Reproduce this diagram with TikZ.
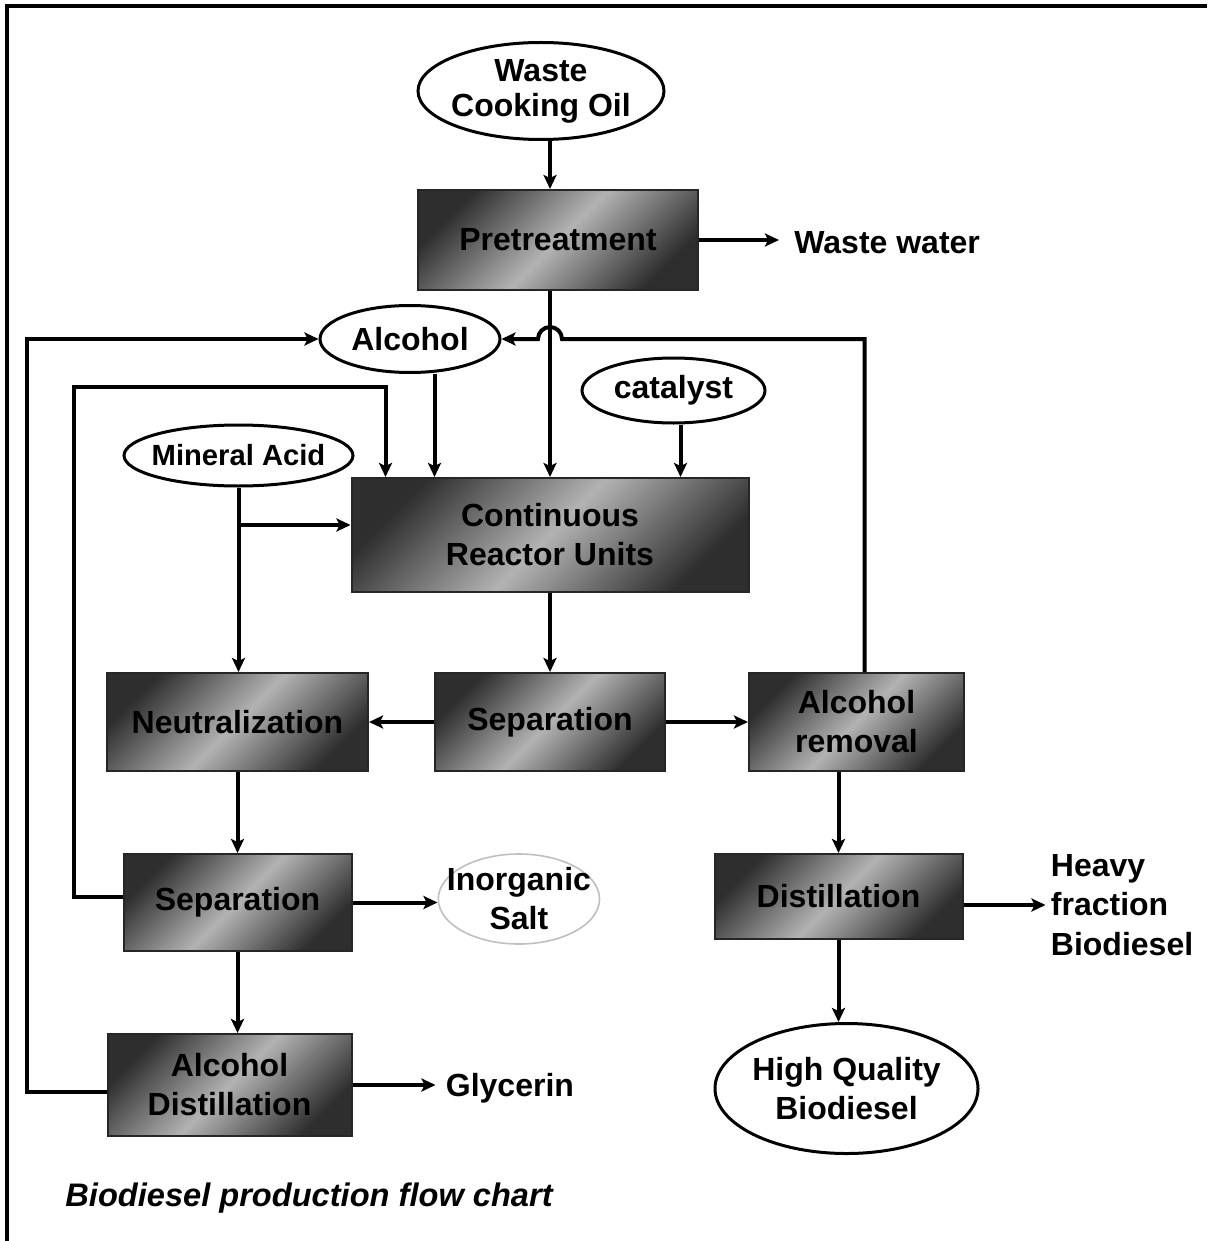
\documentclass[tikz,border=0pt]{standalone}
\usepackage{fontspec}
\setmainfont{Liberation Sans}
\usetikzlibrary{positioning,arrows.meta,shapes.geometric}

\begin{document}
\begin{tikzpicture}[
    x=0.5pt, y=-0.5pt,
    >={Stealth[length=7pt,width=6.5pt,inset=1.5pt]},
    every node/.style={font=\bfseries\fontsize{16}{19.5}\selectfont},
    unit/.style={
        rectangle, draw=black!85, line width=1pt, inner sep=2pt, align=center,
        top color=black!82, bottom color=black!82, middle color=black!30,
        shading angle=45
    },
    feed/.style={
        ellipse, draw=black, line width=1.5pt, fill=white, inner sep=0pt, align=center
    },
    product/.style={inner sep=0pt, align=left},
    flow/.style={->, line width=2pt}
]
\useasboundingbox (0,0) rectangle (1207,1241);
\draw[line width=2pt] (7,1241) -- (7,6) -- (1207,6);

\node[unit, minimum width=140pt, minimum height=50pt] (pretreat) at (558,240) {Pretreatment};
\node[feed, minimum width=123pt, minimum height=48.5pt, inner xsep=-1.5pt,
      font=\bfseries\fontsize{16}{17.5}\selectfont,
      above=24pt of pretreat, xshift=-8.5pt] (wco) {Waste\\Cooking Oil};
\node[product, right=47.5pt of pretreat, yshift=-1.5pt] (ww) {Waste water};

\node[unit, minimum width=198.5pt, minimum height=57pt, below=93pt of pretreat, xshift=-4pt] (reactor) {Continuous\\Reactor Units};
\coordinate (rin1) at ([xshift=17.5pt]reactor.north west);
\coordinate (rin2) at ([xshift=42pt]reactor.north west);
\coordinate (rin3) at ([xshift=165pt]reactor.north west);

\node[feed, minimum width=90pt, minimum height=33.5pt] (alcohol) at (410,339) {Alcohol};
\node[feed, minimum width=91.5pt, minimum height=32.5pt] (catalyst) at (673.5,390.5) {catalyst};
\node[feed, minimum width=114.5pt, minimum height=30.5pt, inner xsep=-3pt,
      font=\bfseries\fontsize{14.6}{17}\selectfont] (mineral) at (238.5,455.5) {Mineral Acid};

\node[unit, minimum width=115pt, minimum height=49pt, below=39.5pt of reactor] (sep1) {Separation};
\node[unit, minimum width=130.5pt, minimum height=49pt, left=32.5pt of sep1] (neutral) {Neutralization};
\node[unit, minimum width=107.5pt, minimum height=49pt, right=41pt of sep1] (alcrem) {Alcohol\\removal};

\node[unit, minimum width=114pt, minimum height=48.5pt, below=40.5pt of neutral] (sep2) {Separation};
\node[feed, draw=black!25, line width=0.8pt, minimum width=80.5pt, minimum height=45pt,
      inner xsep=-7.5pt, inner ysep=-2pt, right=42.5pt of sep2, yshift=1.75pt] (salt) {Inorganic\\Salt};
\node[unit, minimum width=122pt, minimum height=51pt, below=40.5pt of sep2, xshift=-4pt] (alcdist) {Alcohol\\Distillation};
\node[product, right=46.5pt of alcdist, yshift=-1.5pt] (glyc) {Glycerin};

\node[unit, minimum width=124pt, minimum height=42.5pt, below=40.5pt of alcrem, xshift=-9pt] (distill) {Distillation};
\node[product, right=43.5pt of distill, yshift=-4.25pt,
      font=\bfseries\fontsize{16}{19.75}\selectfont] (heavy) {Heavy\\fraction\\Biodiesel};
\node[feed, minimum width=131.5pt, minimum height=65pt, inner xsep=-1pt,
      below=41pt of distill, xshift=4pt] (hq) {High Quality\\Biodiesel};

\node[product, anchor=west, font=\bfseries\itshape\fontsize{16.3}{19}\selectfont] (caption) at (65,1198) {Biodiesel production flow chart};

\draw[flow] (wco.south -| reactor.north) -- (pretreat.north -| reactor.north);
\draw[flow, shorten >=7.5pt] (pretreat.east) -- (pretreat.east -| ww.west);
\draw[flow] (pretreat.south -| reactor.north) -- (reactor.north);

\draw[flow] ([xshift=4pt]alcrem.north) |- ([xshift=6pt]alcohol.east -| reactor.north)
    arc[start angle=0, end angle=180, radius=6pt] -- (alcohol.east);
\draw[flow] ([yshift=-3.5pt]alcdist.west) -- ++(-80,0) |- (alcohol.west);
\draw[flow] ([yshift=3pt]sep2.west) -- ++(-49,0) |- ([yshift=45pt]rin1) -- (rin1);
\draw[flow] (alcohol.south -| rin2) -- (rin2);
\draw[flow] (catalyst.south -| rin3) -- (rin3);

\draw[flow] (mineral.south) -- (mineral.south |- neutral.north);
\draw[flow] ([yshift=5pt]reactor.west -| mineral.south) -- ([yshift=5pt]reactor.west);

\draw[flow] (reactor) -- (sep1);
\draw[flow] (sep1) -- (neutral);
\draw[flow] (sep1) -- (alcrem);
\draw[flow] (neutral) -- (sep2);
\draw[flow] (sep2.east) -- (sep2.east -| salt.west);
\draw[flow] (sep2.south) -- (sep2.south |- alcdist.north);
\draw[flow, shorten >=5pt] (alcdist.east) -- (alcdist.east -| glyc.west);

\draw[flow] (distill.north |- alcrem.south) -- (distill.north);
\draw[flow, shorten >=2.5pt] (distill.east |- heavy.west) -- (heavy.west);
\draw[flow] (distill.south) -- (distill.south |- hq.north);

\end{tikzpicture}
\end{document}
